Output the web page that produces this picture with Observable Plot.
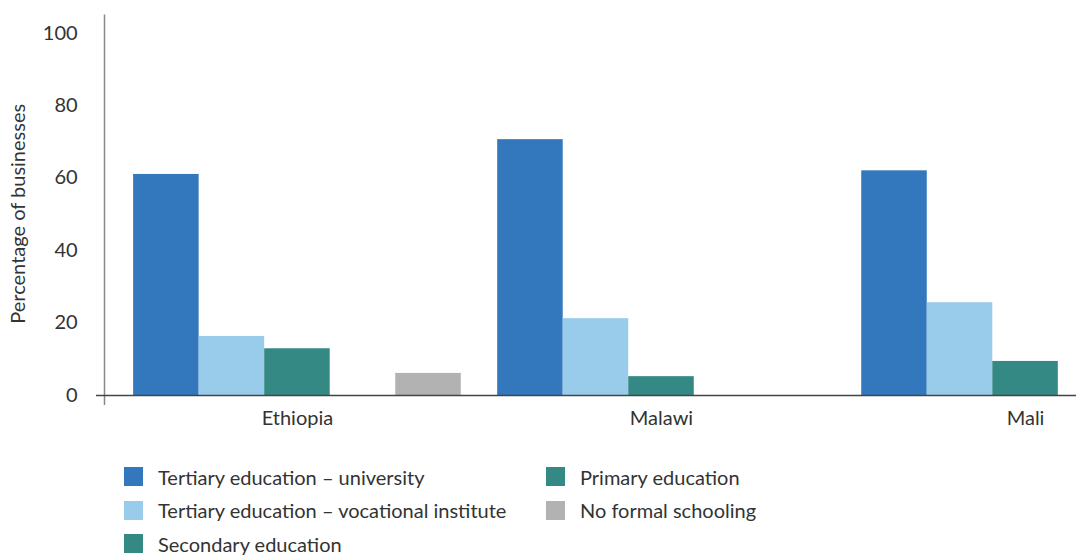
<!DOCTYPE html>
<html><head><meta charset="utf-8">
<script src="https://cdn.jsdelivr.net/npm/d3@7"></script>
<script src="https://cdn.jsdelivr.net/npm/@observablehq/plot@0.6"></script>
<style>
body{margin:0;background:#fff;font-family:Lato,"Noto Sans",sans-serif;color:#333;}
#chart svg{overflow:hidden;display:block;}
#legend{display:grid;grid-template-columns:422px auto;grid-template-rows:repeat(3,33.5px);grid-auto-flow:column;padding-left:124px;margin-top:20px;font-size:20px;}
#legend .item{display:flex;align-items:center;}
#legend .sw{width:19px;height:19px;margin-right:15px;flex:none;}
</style></head>
<body><div id="chart"></div><div id="legend"></div>
<script>
const countries = ["Ethiopia", "Malawi", "Mali"];
const series = ["Tertiary education – university", "Tertiary education – vocational institute", "Secondary education", "Primary education", "No formal schooling"];
const colors = ["#3378bd", "#99cceb", "#348984", "#348984", "#b2b2b2"];
const ethiopia = [61, 16.3, 12.9, 0, 6.1];
const malawi = [70.6, 21.2, 5.2, 0, 0];
const mali = [62, 25.6, 9.4, 0, 0];
const yTicks = [0, 20, 40, 60, 80, 100];
const yLabel = "Percentage of businesses";

const valuesByCountry = [ethiopia, malawi, mali];
const data = [];
countries.forEach((c, i) => series.forEach((s, j) => data.push({country: c, series: s, value: valuesByCountry[i][j]})));

const chart = Plot.plot({
  width: 1076, height: 440,
  marginLeft: 104, marginRight: 0, marginTop: 14, marginBottom: 45,
  style: {fontSize: "20px", fontFamily: "Lato, 'Noto Sans', sans-serif", color: "#333", background: "#fff"},
  facet: {data, x: "country"},
  fx: {domain: countries, range: [104, 1218], round: false, paddingInner: 0.1, paddingOuter: 0.08, label: null, tickSize: 0, tickPadding: 15, axis: "bottom"},
  x: {domain: series, padding: 0, round: false, axis: null},
  y: {domain: [0, 105], range: [395, 14.5], ticks: yTicks, tickSize: 0, tickPadding: 56, label: null},
  color: {domain: series, range: colors},
  marks: [
    Plot.barY(data, {x: "series", y: "value", fill: "series"})
  ]
});
document.getElementById("chart").appendChild(chart);

const y = chart.scale("y");
const svg = d3.select(chart);
svg.append("line").attr("x1", 104.5).attr("x2", 104.5).attr("y1", y.apply(105)).attr("y2", y.apply(0) + 10)
  .attr("stroke", "#888").attr("stroke-width", 1.5);
svg.append("line").attr("x1", 96).attr("x2", 1076).attr("y1", y.apply(0) + 0.5).attr("y2", y.apply(0) + 0.5)
  .attr("stroke", "#444").attr("stroke-width", 1.5);
const cy = (y.apply(0) + y.apply(100)) / 2;
svg.append("text").attr("transform", `translate(25,${cy}) rotate(-90)`).attr("text-anchor", "middle")
  .attr("font-size", 20).attr("font-family", "Lato, 'Noto Sans', sans-serif").attr("fill", "#333").text(yLabel);

const legend = d3.select("#legend");
series.forEach((s, i) => {
  const it = legend.append("div").attr("class", "item");
  it.append("div").attr("class", "sw").style("background", colors[i]);
  it.append("span").text(s);
});
</script>
</body></html>
